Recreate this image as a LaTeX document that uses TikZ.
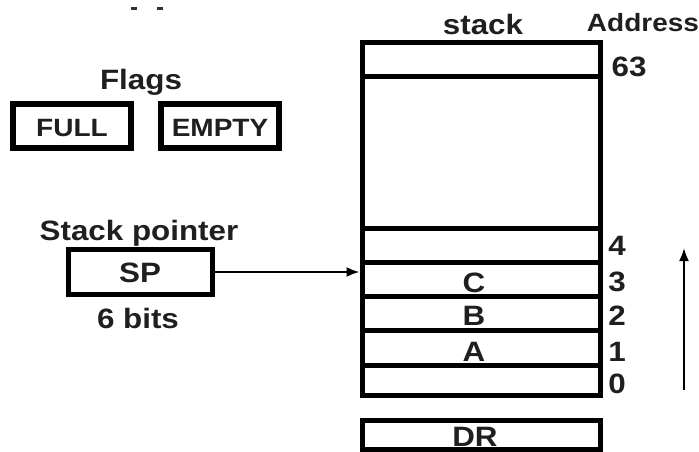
\documentclass[tikz,border=0pt]{standalone}
\usepackage{fontspec}
\setmainfont{Liberation Sans}[FakeStretch=1.12]
\usetikzlibrary{arrows.meta}
\begin{document}
\begin{tikzpicture}[x=1pt,y=-1pt,
  lbl/.style={font=\fontsize{28}{30}\selectfont\bfseries, inner sep=0pt, text=black!88},
  small/.style={font=\fontsize{25}{27}\selectfont\bfseries},
  cell/.style={draw, line width=5pt, minimum width=238pt, inner sep=0pt},
  flagbox/.style={draw, line width=5.5pt, inner sep=0pt, minimum width=118pt, minimum height=44pt},
  ptr/.style={line width=2.2pt, -{Latex[length=13pt,width=10pt]}}]
\useasboundingbox (0,0) rectangle (699,452);
% cropped marks at top
\draw[line width=3pt, black!80] (131,9) -- (137,9);
\draw[line width=3pt, black!80] (157,9) -- (163,9);
% flags
\node[lbl] (flags) at (141,82) {Flags};
\node[flagbox] (full) at (72,126) {};
\node[lbl, small] (fulltxt) at (72,128) {FULL};
\node[flagbox] (empty) at (220,126) {};
\node[lbl, small] (emptytxt) at (220,128) {EMPTY};
% stack pointer
\node[lbl] (sptitle) at (139,233) {Stack pointer};
\node[draw, line width=5pt, minimum width=144pt, minimum height=45pt, inner sep=0pt] (sp) at (140,272) {};
\node[lbl] (sptxt) at (140,273) {SP};
\node[lbl] (bits) at (138,318) {6 bits};
% stack
\node[lbl] (stacktitle) at (483,24) {stack};
\node[lbl, small] (addr) at (643,23) {Address};
\node[cell, minimum height=34pt] (r63) at (481,60) {};
\node[cell, minimum height=151pt] (rgap) at (481,152.5) {};
\node[cell, minimum height=34pt] (r4) at (481,245) {};
\node[cell, minimum height=34pt] (r3) at (481,279) {};
\node[cell, minimum height=34pt] (r2) at (481,313) {};
\node[cell, minimum height=35pt] (r1) at (481,347.5) {};
\node[cell, minimum height=30pt] (r0) at (481,380) {};
\node[lbl] (c) at (474,283) {C};
\node[lbl] (b) at (474,316) {B};
\node[lbl] (a) at (474,352) {A};
\node[lbl] (a63) at (629,67) {63};
\node[lbl] (a4) at (617,246) {4};
\node[lbl] (a3) at (617,282) {3};
\node[lbl] (a2) at (617,316) {2};
\node[lbl] (a1) at (617,352) {1};
\node[lbl] (a0) at (617,384) {0};
% DR
\node[cell, minimum height=29pt] (dr) at (481,434.5) {};
\node[lbl] (drtxt) at (475,437) {DR};
% arrows
\draw[ptr] (sp.east) -- (sp.east -| r3.west);
\coordinate (up0) at (684,390);
\coordinate (up1) at (684,248);
\draw[ptr] (up0) -- (up1);
\end{tikzpicture}
\end{document}
